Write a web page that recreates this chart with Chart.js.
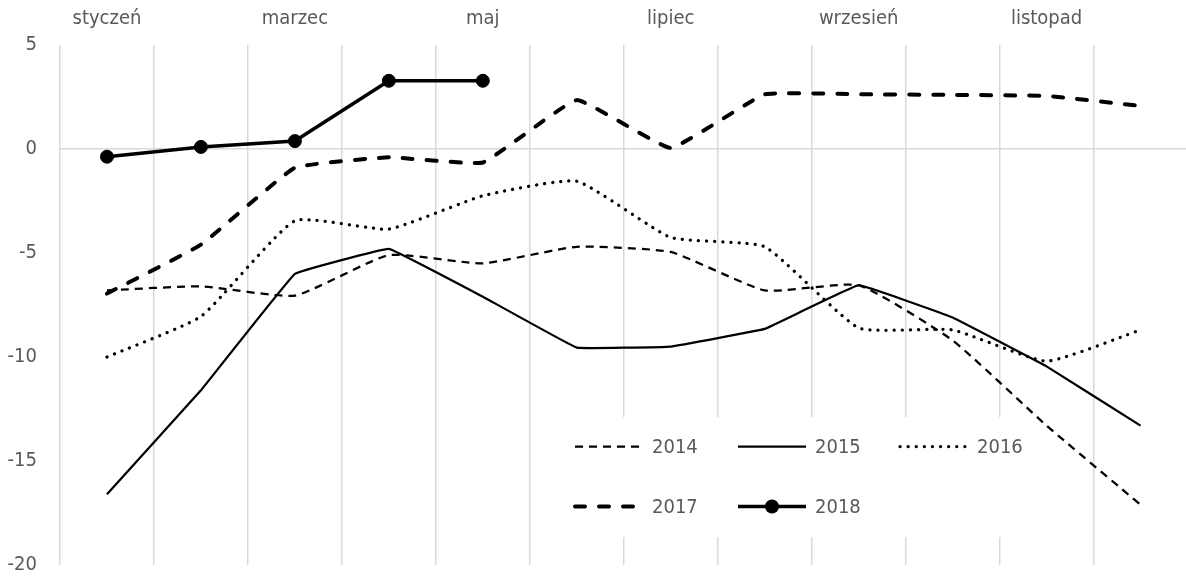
<!DOCTYPE html>
<html>
<head>
<meta charset="utf-8">
<script src="https://cdn.jsdelivr.net/npm/chart.js@4"></script>
<style>
  html, body { margin: 0; padding: 0; background: #fff; overflow: hidden; }
</style>
</head>
<body>
<canvas id="chart" width="1195" height="577"></canvas>
<script>
const months = ['styczeń', 'luty', 'marzec', 'kwiecień', 'maj', 'czerwiec',
  'lipiec', 'sierpień', 'wrzesień', 'październik', 'listopad', 'grudzień'];
const yTicks = [-20, -15, -10, -5, 0, 5];

const y2014 = [-6.8, -6.6, -7.05, -5.1, -5.5, -4.7, -4.95, -6.8, -6.55, -9.2, -13.3, -17.1];
const y2015 = [-16.6, -11.6, -6.0, -4.8, -7.1, -9.55, -9.5, -8.65, -6.55, -8.1, -10.45, -13.3];
const y2016 = [-10.0, -8.05, -3.45, -3.85, -2.25, -1.55, -4.25, -4.7, -8.6, -8.7, -10.2, -8.7];
const y2017 = [-6.95, -4.6, -0.9, -0.4, -0.65, 2.35, 0.05, 2.63, 2.63, 2.6, 2.55, 2.07];
const y2018 = [-0.37, 0.1, 0.38, 3.28, 3.28];

const FONT = '"DejaVu Sans Condensed", "DejaVu Sans", sans-serif';
const FSIZE = 20;
const TEXT = '#595959';
const GRID = '#d9d9d9';

const datasets = [
  { label: '2014', data: y2014, borderWidth: 2.25, borderDash: [8, 6], tension: 0.15 },
  { label: '2015', data: y2015, borderWidth: 2.25, tension: 0.05 },
  { label: '2016', data: y2016, borderWidth: 3.25, borderDash: [0.1, 8], borderCapStyle: 'round', tension: 0.15 },
  { label: '2017', data: y2017, borderWidth: 4, borderDash: [10, 14], borderCapStyle: 'round', tension: 0.1 },
  { label: '2018', data: y2018, borderWidth: 3.5, tension: 0, pointRadius: 6.5, pointBorderWidth: 1,
    pointBackgroundColor: '#000', pointBorderColor: '#000' }
].map(d => Object.assign({ borderColor: '#000', backgroundColor: '#000', pointRadius: 0, fill: false }, d));

// legend drawn inside the plot, over the grid and under the lines
const insideLegend = {
  id: 'insideLegend',
  beforeDatasetsDraw(chart) {
    const ctx = chart.ctx;
    ctx.save();
    ctx.fillStyle = '#fff';
    ctx.fillRect(560, 417, 480, 120);
    const cols = [575, 738, 900];
    const rows = [446.5, 506.5];
    ctx.font = FSIZE + 'px ' + FONT;
    ctx.textBaseline = 'middle';
    chart.data.datasets.forEach((ds, i) => {
      const x = cols[i % 3], y = rows[Math.floor(i / 3)];
      ctx.strokeStyle = '#000';
      ctx.lineWidth = ds.borderWidth;
      ctx.lineCap = ds.borderCapStyle || 'butt';
      ctx.setLineDash(ds.borderDash || []);
      ctx.beginPath();
      ctx.moveTo(x, y);
      ctx.lineTo(x + 68, y);
      ctx.stroke();
      ctx.setLineDash([]);
      if (ds.pointRadius) {
        ctx.fillStyle = '#000';
        ctx.beginPath();
        ctx.arc(x + 34, y, 7, 0, Math.PI * 2);
        ctx.fill();
      }
      ctx.fillStyle = TEXT;
      ctx.fillText(ds.label, x + 77, y + 1);
    });
    ctx.restore();
  }
};

new Chart(document.getElementById('chart'), {
  type: 'line',
  data: { labels: months, datasets: datasets },
  options: {
    responsive: false,
    animation: false,
    layout: { padding: { top: 7, bottom: 12, left: 0, right: 0 } },
    plugins: { legend: { display: false }, tooltip: { enabled: false } },
    scales: {
      x: {
        position: 'top',
        offset: true,
        grid: { offset: true, color: GRID, lineWidth: 1.5, drawTicks: false },
        border: { display: false },
        ticks: {
          autoSkip: false, maxRotation: 0, padding: 14, color: TEXT,
          font: { family: FONT, size: FSIZE },
          callback: (v, i) => (i % 2 === 0 ? months[i] : '')
        },
        afterFit: s => { s.height = 38; s.paddingLeft = 0; s.paddingRight = 0; }
      },
      y: {
        min: yTicks[0],
        max: yTicks[yTicks.length - 1],
        afterBuildTicks: s => { s.ticks = yTicks.map(v => ({ value: v })); },
        grid: {
          color: c => (c.tick && c.tick.value === 0 ? GRID : 'rgba(0,0,0,0)'),
          lineWidth: 1.5, drawTicks: false
        },
        border: { display: false },
        ticks: { padding: 23, color: TEXT, font: { family: FONT, size: FSIZE } },
        afterFit: s => { s.width = 60; s.paddingTop = 0; s.paddingBottom = 0; }
      }
    }
  },
  plugins: [insideLegend]
});
</script>
</body>
</html>
